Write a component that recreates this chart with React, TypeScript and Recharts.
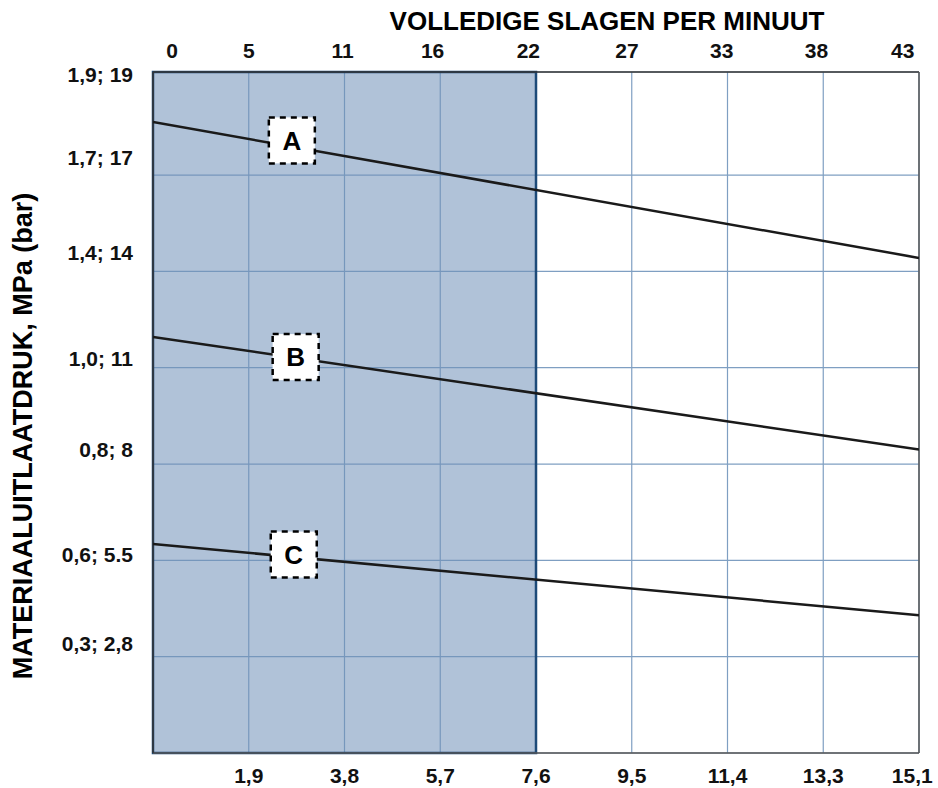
import {
  LineChart,
  Line,
  XAxis,
  YAxis,
  CartesianGrid,
  ReferenceArea,
  ReferenceLine,
  ReferenceDot,
  Label,
} from "recharts";

// top axis: full strokes per minute
const strokesPerMinute = ["0", "5", "11", "16", "22", "27", "33", "38", "43"];
const strokeTickPos = [0.2, 1.0, 1.98, 2.92, 3.92, 4.95, 5.94, 6.93, 7.83];

// bottom axis: flow
const flowLabels = ["1,9", "3,8", "5,7", "7,6", "9,5", "11,4", "13,3", "15,1"];
const flowTickPos = [1, 2, 3, 4, 5, 6, 7, 7.93];

// left axis: outlet pressure MPa; bar
const pressureLabels = ["1,9; 19", "1,7; 17", "1,4; 14", "1,0; 11", "0,8; 8", "0,6; 5.5", "0,3; 2,8"];
const pressureTickPos = [7.04, 6.18, 5.2, 4.1, 3.15, 2.06, 1.14];

const gridX = [0, 1, 2, 3, 4, 5, 6, 7, 8];
const gridY = [0, 1, 2, 3, 4, 5, 6, 7.07];
const Y_TOP = 7.07;

// curves, read at left and right edge of the plot
const curveNames = ["A", "B", "C"];
const curveStart = [6.55, 4.32, 2.17];
const curveEnd = [5.14, 3.15, 1.43];
const tagX = [1.45, 1.49, 1.47];
const tagY = [6.36, 4.11, 2.06];

const shadedTo = 4;

const chartData = [0, 8].map((x, i) => {
  const row: Record<string, number> = { x };
  curveNames.forEach((n, k) => {
    row[n] = i === 0 ? curveStart[k] : curveEnd[k];
  });
  return row;
});

const FONT = '"Liberation Sans", Arial, Helvetica, sans-serif';

function TopTick(props: any) {
  const i = props.index ?? strokeTickPos.indexOf(props.payload?.value);
  return (
    <text x={props.x} y={58} textAnchor="middle" fontFamily={FONT} fontWeight="bold" fontSize={21} fill="#111">
      {strokesPerMinute[i]}
    </text>
  );
}

function BottomTick(props: any) {
  const i = props.index ?? flowTickPos.indexOf(props.payload?.value);
  return (
    <text x={props.x} y={783} textAnchor="middle" fontFamily={FONT} fontWeight="bold" fontSize={21} fill="#111">
      {flowLabels[i]}
    </text>
  );
}

function LeftTick(props: any) {
  const i = props.index ?? pressureTickPos.indexOf(props.payload?.value);
  return (
    <text x={133} y={props.y} dy="0.36em" textAnchor="end" fontFamily={FONT} fontWeight="bold" fontSize={21} fill="#111">
      {pressureLabels[i]}
    </text>
  );
}

function Tag(props: any) {
  const { cx, cy, name } = props;
  return (
    <g>
      <rect
        x={cx - 23}
        y={cy - 23}
        width={46}
        height={46}
        fill="#fff"
        stroke="#000"
        strokeWidth={2.5}
        strokeDasharray="6 5"
      />
      <text x={cx} y={cy} dy="0.36em" textAnchor="middle" fontFamily={FONT} fontWeight="bold" fontSize={26} fill="#000">
        {name}
      </text>
    </g>
  );
}

export default function App() {
  return (
    <div style={{ position: "absolute", left: 0, top: 0, width: 938, height: 788, background: "#fff" }}>
      <LineChart width={938} height={788} data={chartData} margin={{ top: 0, right: 19, bottom: 0, left: 0 }}>
        <CartesianGrid
          stroke="#7f9fc2"
          strokeWidth={1.2}
          verticalValues={gridX}
          horizontalValues={gridY}
        />
        <ReferenceArea
          x1={0}
          x2={shadedTo}
          y1={0}
          y2={Y_TOP}
          fill="#6f90b8"
          fillOpacity={0.55}
          stroke="#1d4a78"
          strokeWidth={2.5}
        />
        <XAxis
          xAxisId="top"
          orientation="top"
          dataKey="x"
          type="number"
          domain={[0, 8]}
          allowDataOverflow
          ticks={strokeTickPos}
          interval={0}
          height={72}
          tickLine={false}
          axisLine={false}
          tick={(p: any) => <TopTick {...p} />}
        >
          <Label
            content={() => (
              <text x={607} y={30} textAnchor="middle" fontFamily={FONT} fontWeight="bold" fontSize={26} fill="#000">
                VOLLEDIGE SLAGEN PER MINUUT
              </text>
            )}
          />
        </XAxis>
        <XAxis
          dataKey="x"
          type="number"
          domain={[0, 8]}
          allowDataOverflow
          ticks={flowTickPos}
          interval={0}
          height={35}
          tickLine={false}
          axisLine={false}
          tick={(p: any) => <BottomTick {...p} />}
        />
        <YAxis
          type="number"
          domain={[0, Y_TOP]}
          allowDataOverflow
          ticks={pressureTickPos}
          interval={0}
          width={153}
          tickLine={false}
          axisLine={false}
          tick={(p: any) => <LeftTick {...p} />}
        >
          <Label
            content={() => (
              <text
                x={32}
                y={436}
                transform="rotate(-90 32 436)"
                textAnchor="middle"
                fontFamily={FONT}
                fontWeight="bold"
                fontSize={27}
                fill="#000"
              >
                MATERIAALUITLAATDRUK, MPa (bar)
              </text>
            )}
          />
        </YAxis>
        <ReferenceLine y={Y_TOP} stroke="#333" strokeWidth={1.5} />
        <ReferenceLine y={0} stroke="#555" strokeWidth={1.5} />
        <ReferenceLine x={0} stroke="#333" strokeWidth={1.5} />
        <ReferenceLine x={8} stroke="#555" strokeWidth={1.5} />
        {curveNames.map((n) => (
          <Line
            key={n}
            dataKey={n}
            type="linear"
            stroke="#1a1a1a"
            strokeWidth={2.5}
            dot={false}
            activeDot={false}
            isAnimationActive={false}
          />
        ))}
        {curveNames.map((n, k) => (
          <ReferenceDot
            key={"tag" + n}
            x={tagX[k]}
            y={tagY[k]}
            r={0}
            shape={(p: any) => <Tag {...p} name={n} />}
          />
        ))}
      </LineChart>
    </div>
  );
}
